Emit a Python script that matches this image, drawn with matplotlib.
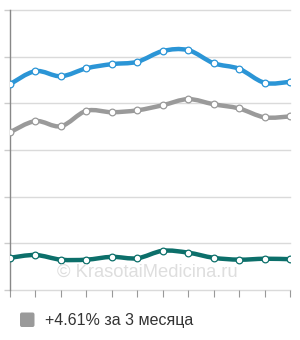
import matplotlib
matplotlib.use("Agg")
import matplotlib.pyplot as plt
import numpy as np
from matplotlib.path import Path
from matplotlib.patches import PathPatch, FancyBboxPatch

# Данные (12 точек)
months = np.arange(12)
blue_vals = [4.41, 4.69, 4.58, 4.75, 4.84, 4.89, 5.12, 5.14, 4.86, 4.74, 4.44, 4.46]
gray_vals = [3.38, 3.62, 3.51, 3.84, 3.81, 3.85, 3.96, 4.09, 3.98, 3.89, 3.70, 3.72]
teal_vals = [0.69, 0.75, 0.65, 0.65, 0.71, 0.68, 0.84, 0.80, 0.69, 0.65, 0.67, 0.66]
y_ticks = [0, 1, 2, 3, 4, 5, 6]
legend_text = '+4.61% за 3 месяца'


def smooth_path(x, y):
    # Кривые Безье через точки (Catmull-Rom)
    x = np.asarray(x, float)
    y = np.asarray(y, float)
    verts = [(x[0], y[0])]
    codes = [Path.MOVETO]
    n = len(x)
    for i in range(n - 1):
        x0, y0 = (x[i - 1], y[i - 1]) if i > 0 else (x[i], y[i])
        x3, y3 = (x[i + 2], y[i + 2]) if i + 2 < n else (x[i + 1], y[i + 1])
        c1 = (x[i] + (x[i + 1] - x0) / 6, y[i] + (y[i + 1] - y0) / 6)
        c2 = (x[i + 1] - (x3 - x[i]) / 6, y[i + 1] - (y3 - y[i]) / 6)
        verts += [c1, c2, (x[i + 1], y[i + 1])]
        codes += [Path.CURVE4] * 3
    return Path(verts, codes)


fig = plt.figure(figsize=(3, 3.4), dpi=100)
ax = fig.add_axes([10 / 300, 50 / 340, 280 / 300, 280 / 340])

ax.set_xlim(0, 11)
ax.set_ylim(0, 6)

# Сетка
for yv in y_ticks:
    ax.axhline(yv, color='#dadada', lw=1, zorder=0, clip_on=False)

series = [(blue_vals, '#2b95d6'), (gray_vals, '#9a9a9a'), (teal_vals, '#0c6f6a')]
for vals, col in series:
    ax.add_patch(PathPatch(smooth_path(months, vals), facecolor='none',
                           edgecolor=col, lw=3.2, capstyle='round', zorder=2))
    ax.plot(months, vals, 'o', ms=4.8, mfc='white', mec=col, mew=0.9, zorder=3)

ax.set_xticks(months)
ax.set_yticks(y_ticks)
ax.set_xticklabels([])
ax.set_yticklabels([])
ax.tick_params(axis='x', direction='out', length=5, color='#999999', width=0.8)
ax.tick_params(axis='y', direction='out', length=4, color='#cccccc', width=1)
for s in ['top', 'right', 'bottom']:
    ax.spines[s].set_visible(False)
ax.spines['left'].set_color('#888888')
ax.spines['left'].set_linewidth(1)

# Водяной знак
fig.text(147 / 300, 1 - 272 / 340, '© KrasotaiMedicina.ru', ha='center', va='center',
         fontsize=13.2, color='#dedede', family='Liberation Sans', zorder=1)

# Легенда
fig.patches.append(FancyBboxPatch((20 / 300, 1 - 327 / 340), 14.5 / 300, 14.5 / 340,
                                  boxstyle='round,pad=0,rounding_size=0.006',
                                  transform=fig.transFigure, facecolor='#9a9a9a',
                                  edgecolor='none'))
fig.text(45 / 300, 1 - 320 / 340, legend_text, ha='left', va='center',
         fontsize=11.5, color='#333333', family='Liberation Sans')

fig.savefig('out.png', dpi=100)
